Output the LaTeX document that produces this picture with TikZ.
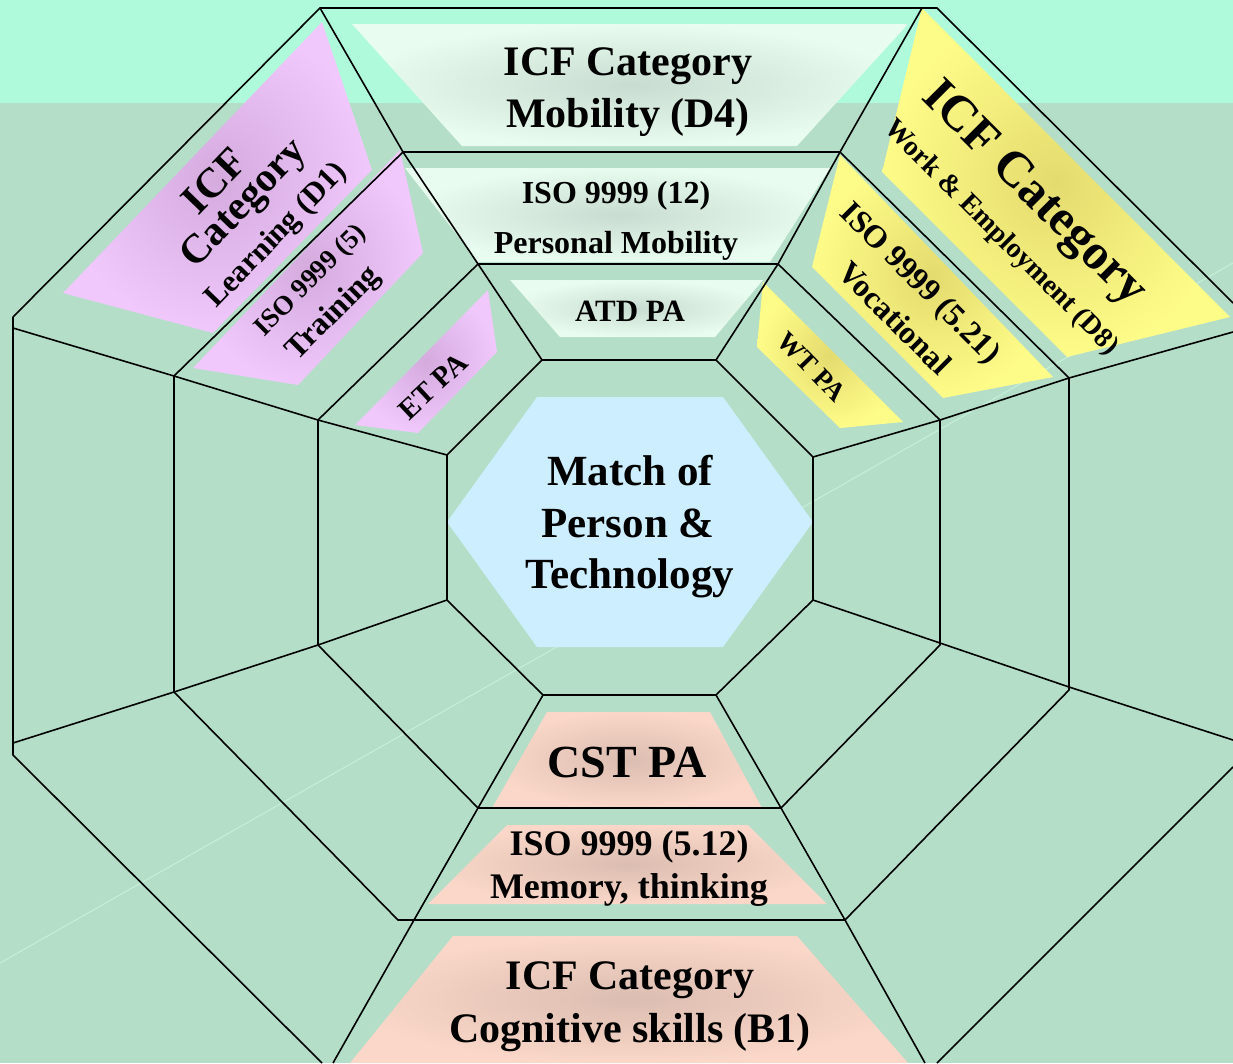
\documentclass[tikz,border=0pt]{standalone}
\usepackage{fontspec}
\setmainfont{Liberation Serif}
\definecolor{bgtop}{HTML}{B0FADC}
\definecolor{bgmain}{HTML}{B4DEC8}
\definecolor{faintln}{HTML}{C6F0D8}
\definecolor{mintout}{HTML}{E8FCEF}
\definecolor{mintin}{HTML}{C9DCD1}
\definecolor{purout}{HTML}{F0C8FC}
\definecolor{purin}{HTML}{D5ABDE}
\definecolor{yelout}{HTML}{FEFC88}
\definecolor{yelin}{HTML}{E4DB6E}
\definecolor{salout}{HTML}{FAD7C8}
\definecolor{salin}{HTML}{DBBDB1}
\definecolor{hexblue}{HTML}{CDEEFE}
\newcommand{\fsz}[1]{\fontsize{#1}{#1}\selectfont}
\tikzset{
  grid/.style={draw=black, line width=1.6pt, line join=miter},
  mintsh/.style={inner color=mintin, outer color=mintout},
  pursh/.style={inner color=purin, outer color=purout},
  yelsh/.style={inner color=yelin, outer color=yelout},
  salsh/.style={inner color=salin, outer color=salout},
  lbl/.style={inner sep=0pt, text=black},
}
\begin{document}
\begin{tikzpicture}[x=1pt,y=-1pt]
\useasboundingbox (0,0) rectangle (1233,1063);
% background
\fill[bgtop] (0,0) rectangle (1233,103);
\fill[bgmain] (0,103) rectangle (1233,1063);
\draw[faintln, line width=1pt] (0,963) -- (1233,263);

% mint shapes (top)
\shade[mintsh] (352,24) -- (908,24) -- (797,146) -- (462,146) -- cycle;
\shade[mintsh] (405,168) -- (830,168) -- (770,262) -- (478,262) -- cycle;
\shade[mintsh] (510,280) -- (763,280) -- (715,337) -- (560,337) -- cycle;

% salmon shapes (bottom)
\shade[salsh] (547,712) -- (710,712) -- (762,808) -- (492,808) -- cycle;
\shade[salsh] (507,825) -- (748,825) -- (827,904) -- (428,904) -- cycle;
\shade[salsh] (453,936) -- (797,936) -- (908,1063) -- (350,1063) -- cycle;

% purple shapes (upper left)
\shade[pursh] (322,22) -- (372,170) -- (213,333) -- (63,293) -- cycle;
\shade[pursh] (400,150) -- (423,253) -- (298,385) -- (193,368) -- cycle;
\shade[pursh] (488,290) -- (497,352) -- (418,433) -- (355,425) -- cycle;

% yellow shapes (upper right)
\shade[yelsh] (922,8) -- (1230,317) -- (1067,357) -- (882,172) -- cycle;
\shade[yelsh] (840,155) -- (1053,377) -- (943,398) -- (812,267) -- cycle;
\shade[yelsh] (763,282) -- (903,422) -- (840,428) -- (757,347) -- cycle;

% central hexagon
\fill[hexblue] (447,522) -- (537,397) -- (723,397) -- (813,522) -- (723,647) -- (537,647) -- cycle;

% outer frame
\draw[grid] (13,317) -- (320,8) -- (937,8) -- (1233,303);
\draw[grid] (13,317) -- (13,755) -- (322,1063);
\draw[grid] (1233,767) -- (937,1063);
% octagons
\draw[grid] (403,152) -- (840,152) -- (1069,378) -- (1069,690) -- (845,920) -- (398,920) -- (174,692) -- (174,376) -- cycle;
\draw[grid] (478,264) -- (778,264) -- (940,420) -- (940,645) -- (781,808) -- (478,808) -- (318,645) -- (318,420) -- cycle;
\draw[grid] (542,360) -- (716,360) -- (813,457) -- (813,600) -- (716,695) -- (543,695) -- (447,600) -- (447,455) -- cycle;
% radial lines
\draw[grid] (320,8) -- (403,152) -- (478,264) -- (542,360);
\draw[grid] (922,8) -- (840,152) -- (778,264) -- (716,360);
\draw[grid] (813,457) -- (940,420) -- (1069,378) -- (1233,332);
\draw[grid] (813,600) -- (940,643) -- (1069,687) -- (1233,740);
\draw[grid] (716,695) -- (781,808) -- (845,920) -- (925,1063);
\draw[grid] (543,695) -- (478,808) -- (414,920) -- (333,1063);
\draw[grid] (447,600) -- (318,645) -- (174,692) -- (13,743);
\draw[grid] (447,455) -- (318,420) -- (174,376) -- (13,328);

% texts: top
\node[lbl, anchor=base, font=\bfseries\fsz{42}] (mobA) at (628,75) {ICF Category};
\node[lbl, anchor=base, font=\bfseries\fsz{42}] (mobB) at (628,127) {Mobility (D4)};
\node[lbl, anchor=base, font=\bfseries\fsz{32}] (pmA) at (616,203) {ISO 9999 (12)};
\node[lbl, anchor=base, font=\bfseries\fsz{32}] (pmB) at (616,253) {Personal Mobility};
\node[lbl, anchor=base, font=\bfseries\fsz{31}] (atd) at (630,321) {ATD PA};
% center
\node[lbl, anchor=base, font=\bfseries\fsz{43}] (mpA) at (630,485) {Match of};
\node[lbl, anchor=base, font=\bfseries\fsz{43}] (mpB) at (628,537) {Person \&};
\node[lbl, anchor=base, font=\bfseries\fsz{43}] (mpC) at (630,588) {Technology};
% bottom
\node[lbl, anchor=base, font=\bfseries\fsz{46}] (cst) at (627,777) {CST PA};
\node[lbl, anchor=base, font=\bfseries\fsz{36}] (memA) at (629,855) {ISO 9999 (5.12)};
\node[lbl, anchor=base, font=\bfseries\fsz{36}] (memB) at (629,898) {Memory, thinking};
\node[lbl, anchor=base, font=\bfseries\fsz{42}] (cogA) at (630,989) {ICF Category};
\node[lbl, anchor=base, font=\bfseries\fsz{42}] (cogB) at (630,1042) {Cognitive skills (B1)};
% left (purple)
\node[lbl, rotate=46, font=\bfseries\fsz{42}] (lrnA) at (214,181) {ICF};
\node[lbl, rotate=46, font=\bfseries\fsz{41}] (lrnB) at (245,205) {Category};
\node[lbl, rotate=46, font=\bfseries\fsz{31}] (lrnC) at (277,236) {Learning (D1)};
\node[lbl, rotate=45, font=\bfseries\fsz{27}] (trnA) at (311,281) {ISO 9999 (5)};
\node[lbl, rotate=45, font=\bfseries\fsz{32}] (trnB) at (334,314) {Training};
\node[lbl, rotate=43, font=\bfseries\fsz{29}] (etpa) at (433,386) {ET PA};
% right (yellow)
\node[lbl, rotate=-45, font=\bfseries\fsz{50}] (wrkA) at (1033,195) {ICF Category};
\node[lbl, rotate=-45, font=\bfseries\fsz{28}] (wrkB) at (1001,238) {Work \& Employment (D8)};
\node[lbl, rotate=-45, font=\bfseries\fsz{32}] (vocA) at (919,284) {ISO 9999 (5.21)};
\node[lbl, rotate=-45, font=\bfseries\fsz{32}] (vocB) at (895,318) {Vocational};
\node[lbl, rotate=-46, font=\bfseries\fsz{27}] (wtpa) at (812,367) {WT PA};
\end{tikzpicture}
\end{document}
